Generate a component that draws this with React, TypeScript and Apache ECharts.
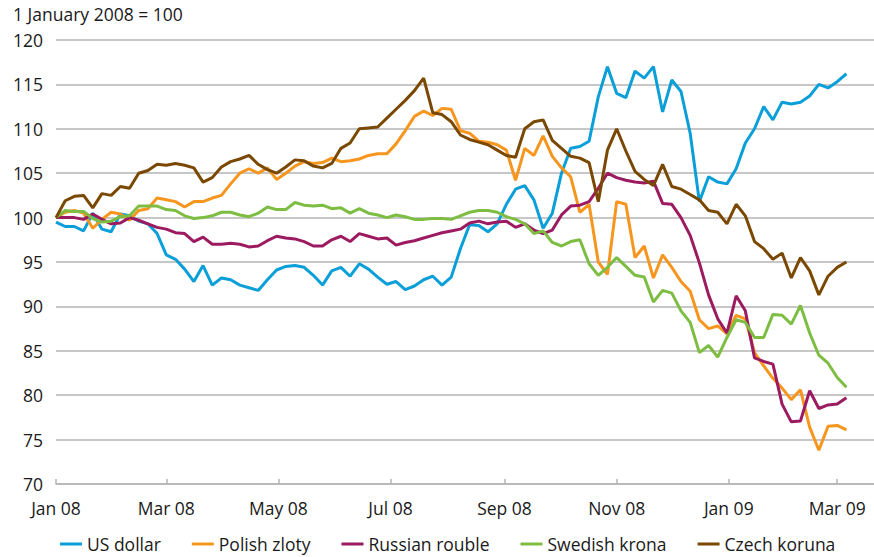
import React, { useEffect, useRef } from "react";
import * as echarts from "echarts";

// day offsets from 1 January 2008
const days = [
  0, 5, 10, 15, 20, 25, 30, 35, 40, 45, 50, 55, 60, 65, 70, 75, 80, 85, 90, 95,
  100, 105, 110, 115, 120, 125, 130, 135, 140, 145, 150, 155, 160, 165, 170, 175, 180, 185, 190, 195,
  200, 205, 210, 215, 220, 225, 230, 235, 240, 245, 250, 255, 260, 265, 270, 275, 280, 285, 290, 295,
  300, 305, 310, 315, 320, 325, 330, 335, 340, 345, 350, 355, 360, 365, 370, 375, 380, 385, 390, 395,
  400, 405, 410, 415, 420, 425, 430,
];

const tickDays = [0, 60, 121, 182, 244, 305, 366, 425];
const tickLabels = ["Jan 08", "Mar 08", "May 08", "Jul 08", "Sep 08", "Nov 08", "Jan 09", "Mar 09"];

const usDollar = [
  99.5, 99.0, 99.0, 98.5, 100.5, 98.7, 98.4, 100.4, 100.2, 99.6,
  99.3, 98.2, 95.8, 95.3, 94.2, 92.8, 94.6, 92.4, 93.2, 93.0,
  92.4, 92.1, 91.8, 93.0, 94.1, 94.5, 94.6, 94.4, 93.5, 92.4,
  94.0, 94.4, 93.4, 94.8, 94.2, 93.3, 92.5, 92.8, 91.9, 92.3,
  93.0, 93.4, 92.4, 93.3, 96.5, 99.2, 99.1, 98.4, 99.3, 101.5,
  103.2, 103.6, 102.0, 98.8, 100.5, 105.0, 107.8, 108.0, 108.6, 113.6,
  117.0, 114.0, 113.5, 116.5, 115.7, 117.0, 111.9, 115.5, 114.2, 109.5,
  101.8, 104.6, 104.0, 103.8, 105.5, 108.4, 110.0, 112.5, 111.0, 113.0,
  112.8, 113.0, 113.7, 115.0, 114.6, 115.3, 116.2,
];

const polishZloty = [
  100.0, 100.6, 100.8, 100.5, 98.8, 99.8, 100.6, 100.4, 99.7, 100.8,
  101.0, 102.2, 102.0, 101.8, 101.2, 101.8, 101.8, 102.2, 102.5, 103.8,
  105.0, 105.5, 105.0, 105.6, 104.3, 105.0, 105.8, 106.3, 106.1, 106.2,
  106.7, 106.3, 106.4, 106.6, 107.0, 107.2, 107.2, 108.3, 109.8, 111.4,
  112.0, 111.5, 112.3, 112.2, 109.8, 109.5, 108.6, 108.5, 108.2, 107.6,
  104.2, 107.8, 107.0, 109.2, 106.9, 105.6, 104.6, 100.6, 101.5, 95.0,
  93.6, 101.8, 101.5, 95.5, 96.8, 93.2, 95.8, 94.4, 92.8, 91.7,
  88.5, 87.5, 87.8, 86.9, 89.0, 88.6, 84.8, 83.3, 81.9, 80.8,
  79.5, 80.6, 76.4, 73.8, 76.5, 76.6, 76.1,
];

const russianRouble = [
  100.0, 100.0, 100.0, 99.8, 100.4, 99.8, 99.3, 99.4, 100.0, 99.7,
  99.3, 98.9, 98.7, 98.3, 98.2, 97.3, 97.8, 97.0, 97.0, 97.1,
  97.0, 96.7, 96.8, 97.4, 97.9, 97.7, 97.6, 97.3, 96.8, 96.8,
  97.5, 97.9, 97.3, 98.2, 97.9, 97.6, 97.7, 96.9, 97.2, 97.4,
  97.7, 98.0, 98.3, 98.5, 98.7, 99.4, 99.6, 99.3, 99.5, 99.6,
  98.9, 99.3, 98.6, 98.2, 98.6, 100.3, 101.3, 101.4, 101.8, 103.3,
  105.0, 104.5, 104.2, 104.0, 103.9, 104.1, 101.6, 101.5, 100.0, 98.0,
  94.9, 91.3, 88.6, 87.0, 91.2, 89.5, 84.2, 83.8, 83.5, 79.0,
  77.0, 77.1, 80.5, 78.5, 78.9, 79.0, 79.7,
];

const swedishKrona = [
  100.0, 100.8, 100.7, 100.7, 99.9, 99.5, 99.6, 100.1, 100.2, 101.3,
  101.3, 101.3, 100.9, 100.8, 100.2, 99.9, 100.0, 100.2, 100.6, 100.6,
  100.3, 100.1, 100.5, 101.2, 100.9, 100.9, 101.7, 101.4, 101.3, 101.4,
  101.0, 101.1, 100.5, 101.0, 100.5, 100.3, 100.0, 100.3, 100.1, 99.8,
  99.8, 99.9, 99.9, 99.8, 100.2, 100.6, 100.8, 100.8, 100.6, 100.1,
  99.8, 99.3, 98.2, 98.5, 97.2, 96.8, 97.3, 97.5, 94.8, 93.5,
  94.4, 95.5, 94.5, 93.5, 93.3, 90.5, 91.8, 91.5, 89.5, 88.2,
  84.8, 85.6, 84.3, 86.5, 88.5, 88.2, 86.5, 86.5, 89.1, 89.0,
  88.0, 90.1, 87.0, 84.5, 83.6, 82.0, 80.9,
];

const czechKoruna = [
  100.0, 101.9, 102.4, 102.5, 101.1, 102.7, 102.5, 103.5, 103.3, 105.0,
  105.3, 106.0, 105.9, 106.1, 105.9, 105.6, 104.0, 104.5, 105.7, 106.3,
  106.6, 107.0, 106.0, 105.4, 105.0, 105.7, 106.5, 106.4, 105.8, 105.6,
  106.1, 107.8, 108.4, 110.0, 110.1, 110.2, 111.2, 112.2, 113.2, 114.3,
  115.7, 111.8, 111.6, 110.8, 109.3, 108.8, 108.5, 108.2, 107.6, 107.0,
  106.8, 110.0, 110.8, 111.0, 108.7, 107.8, 106.9, 106.7, 106.2, 101.8,
  107.6, 110.0, 107.5, 105.2, 104.3, 103.6, 106.0, 103.5, 103.2, 102.6,
  102.0, 100.8, 100.6, 99.3, 101.5, 100.2, 97.3, 96.5, 95.3, 96.0,
  93.2, 95.5, 94.0, 91.3, 93.4, 94.4, 95.0,
];

const seriesNames = ["US dollar", "Polish zloty", "Russian rouble", "Swedish krona", "Czech koruna"];
const seriesValues = [usDollar, polishZloty, russianRouble, swedishKrona, czechKoruna];
const seriesColors = ["#0a9fd8", "#f7961e", "#9c1a60", "#7cbd42", "#7a4800"];

const FONT = "'Open Sans', 'DejaVu Sans', sans-serif";
const TEXT = "#1a1a1a";
const GRID = "#b4b4b4";
const FS = 17.5;

export default function App() {
  const ref = useRef<HTMLDivElement>(null);

  useEffect(() => {
    if (!ref.current) return;
    const chart = echarts.init(ref.current, undefined, { renderer: "svg" });
    chart.setOption({
      animation: false,
      backgroundColor: "#ffffff",
      textStyle: { fontFamily: FONT, color: TEXT },
      title: {
        text: "1 January 2008 = 100",
        left: 13,
        top: 5,
        padding: 0,
        textStyle: { fontFamily: FONT, fontSize: FS, fontWeight: "normal", color: TEXT },
      },
      grid: { left: 56, right: 0, top: 40, bottom: 73, containLabel: false },
      xAxis: {
        type: "value",
        min: 0,
        max: 445,
        axisLine: { show: true, lineStyle: { color: GRID, width: 1.5 } },
        axisTick: {
          show: true,
          inside: true,
          length: 5,
          customValues: tickDays,
          lineStyle: { color: GRID, width: 1.5 },
        },
        splitLine: { show: false },
        axisLabel: {
          customValues: tickDays,
          margin: 15,
          fontFamily: FONT,
          fontSize: FS,
          color: TEXT,
          formatter: (v: number) => {
            const i = tickDays.indexOf(Math.round(v));
            return i >= 0 ? tickLabels[i] : "";
          },
        },
      },
      yAxis: {
        type: "value",
        min: 70,
        max: 120,
        interval: 5,
        axisLine: { show: false },
        axisTick: { show: false },
        splitLine: { show: true, lineStyle: { color: GRID, width: 1.5 } },
        axisLabel: { margin: 13, fontFamily: FONT, fontSize: FS, color: TEXT },
      },
      legend: {
        left: 60,
        top: 535,
        padding: 0,
        itemWidth: 22,
        itemHeight: 3,
        itemGap: 31,
        icon: "rect",
        textStyle: { fontFamily: FONT, fontSize: FS, color: TEXT },
        data: seriesNames,
      },
      series: seriesNames.map((name, k) => ({
        name,
        type: "line",
        showSymbol: false,
        symbol: "none",
        smooth: false,
        color: seriesColors[k],
        lineStyle: { color: seriesColors[k], width: 3 },
        data: days.map((d, i) => [d, seriesValues[k][i]]),
      })),
    });
    return () => chart.dispose();
  }, []);

  return (
    <div
      ref={ref}
      style={{ position: "fixed", left: 0, top: 0, width: 874, height: 557 }}
    />
  );
}
